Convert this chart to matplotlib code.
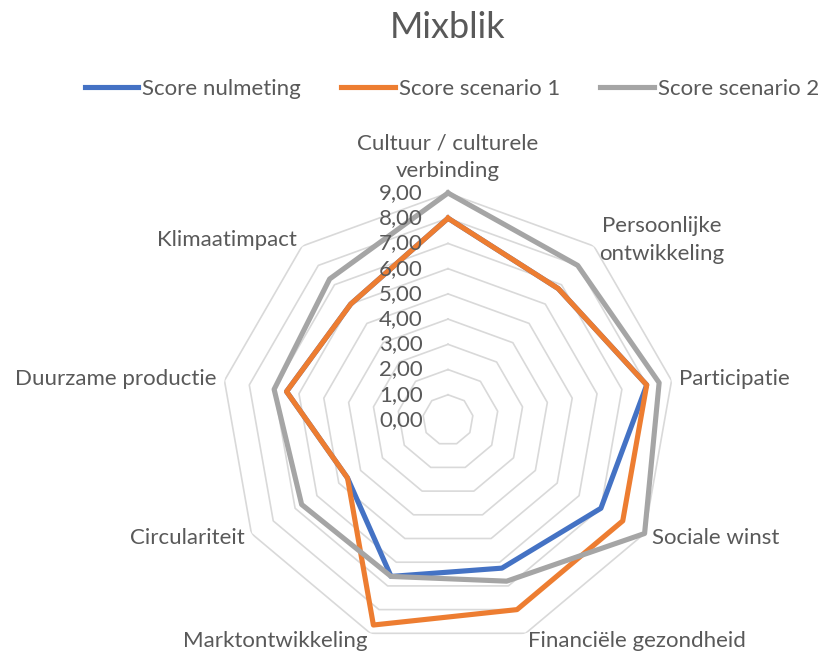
import numpy as np
import matplotlib
matplotlib.use("Agg")
import matplotlib.pyplot as plt

categorieen = ["Cultuur / culturele\nverbinding", "Persoonlijke\nontwikkeling", "Participatie",
               "Sociale winst", "Financiële gezondheid", "Marktontwikkeling",
               "Circulariteit", "Duurzame productie", "Klimaatimpact"]
score_nulmeting = [8.0, 6.8, 8.0, 7.0, 6.25, 6.6, 4.6, 6.5, 6.0]
score_scenario1 = [8.0, 6.8, 8.0, 8.0, 8.0, 8.65, 4.6, 6.5, 6.0]
score_scenario2 = [9.0, 8.0, 8.5, 9.0, 6.8, 6.6, 6.7, 7.0, 7.3]
series_namen = ["Score nulmeting", "Score scenario 1", "Score scenario 2"]
kleuren = ["#4472C4", "#ED7D31", "#A5A5A5"]
schaal = [0, 1, 2, 3, 4, 5, 6, 7, 8, 9]

plt.rcParams['font.family'] = ['Lato', 'DejaVu Sans']
tekstkleur = "#595959"

fig = plt.figure(figsize=(8.19, 6.57), dpi=100)
W, H = 819, 657
cx, cy, R = 448, 420, 227
ax = fig.add_axes([(cx - R) / W, (H - cy - R) / H, 2 * R / W, 2 * R / H], projection='polar')
ax.set_theta_zero_location('N')
ax.set_theta_direction(-1)
ax.set_ylim(0, 9)
ax.grid(False)
ax.set_xticks([])
ax.set_yticks([])
ax.spines['polar'].set_visible(False)
ax.patch.set_alpha(0)

n = len(categorieen)
hoeken = np.linspace(0, 2 * np.pi, n, endpoint=False)
hoeken_dicht = np.append(hoeken, hoeken[0])

# polygoon-rasterlijnen
for k in schaal[1:]:
    ax.plot(hoeken_dicht, [k] * (n + 1), color="#d9d9d9", lw=1.2, zorder=1)

for waarden, naam, kleur in zip([score_nulmeting, score_scenario1, score_scenario2], series_namen, kleuren):
    ax.plot(hoeken_dicht, waarden + [waarden[0]], color=kleur, lw=3.7, label=naam,
            solid_joinstyle='round', clip_on=False, zorder=3)

# as-labels
for k in schaal:
    ax.annotate(f"{k:.2f}".replace(".", ","), xy=(0, k), xytext=(-25, 0), textcoords='offset pixels',
                ha='right', va='center', fontsize=16, color=tekstkleur, zorder=4)

# categorie-labels
for hoek, label in zip(hoeken, categorieen):
    s, c = np.sin(hoek), np.cos(hoek)
    if abs(s) < 0.1:
        ha, va, dx, dy = 'center', 'bottom', 0, 12
    else:
        ha = 'left' if s > 0 else 'right'
        va = 'center'
        dx, dy = 8 * s, 8 * c
    ax.annotate(label, xy=(hoek, 9), xytext=(dx, dy), textcoords='offset pixels',
                ha=ha, va=va, fontsize=16, color=tekstkleur, linespacing=1.5,
                multialignment='center', annotation_clip=False)

fig.text(cx / W, 1 - 28 / H, "Mixblik", ha='center', va='center', fontsize=26, color=tekstkleur)
fig.legend(loc='center', bbox_to_anchor=(452 / W, 1 - 89 / H), ncol=3, frameon=False,
           fontsize=16, handlelength=2.4, handletextpad=0.2, columnspacing=1.8,
           labelcolor=tekstkleur)

fig.savefig("out.png", dpi=100)
